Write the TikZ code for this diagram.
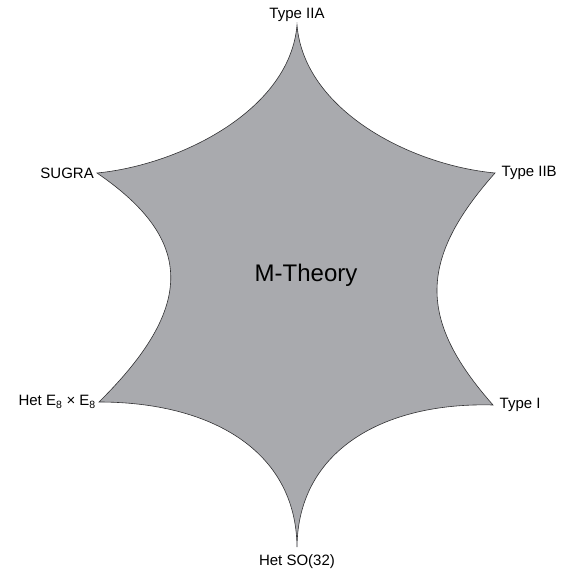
\documentclass[tikz,border=0pt]{standalone}
\usepackage{fontspec}
\setmainfont{Liberation Sans}
\usetikzlibrary{positioning}

\definecolor{stargray}{RGB}{169,170,174}
\definecolor{edgegray}{RGB}{50,50,52}

\begin{document}
\begin{tikzpicture}[x=1pt, y=-1pt, node distance=2pt,
    vertexlabel/.style={inner sep=1pt, font=\fontsize{15}{18}\selectfont},
    starshape/.style={fill=stargray, draw=edgegray, line width=0.6pt}]
    \useasboundingbox (0,0) rectangle (560,577);

    % tips of the star
    \coordinate (top) at (297,25);
    \coordinate (ur) at (495,173);
    \coordinate (lr) at (493,405);
    \coordinate (bot) at (297,547);
    \coordinate (ll) at (99,402);
    \coordinate (ul) at (97,173);

    \draw [starshape] (top) .. controls (304,110) and (410,165) .. (ur)
        .. controls (418,260) and (418,320) .. (lr)
        .. controls (384,402) and (298,450) .. (bot)
        .. controls (296,450) and (210,402) .. (ll)
        .. controls (195,307) and (195,240) .. (ul)
        .. controls (180,165) and (290,110) .. (top) -- cycle;

    \node (mtheory) at (306,275) [font=\fontsize{24}{28}\selectfont] {M-Theory};

    \node (iia) [vertexlabel, above=of top] {Type IIA};
    \node (iib) [vertexlabel, right=5.5pt of ur] {Type IIB};
    \node (typei) [vertexlabel, right=5.5pt of lr] {Type I};
    \node (so32) [vertexlabel, below=6pt of bot] {Het SO(32)};
    \node (e8e8) [vertexlabel, left=2pt of ll] {Het E\textsubscript{8} × E\textsubscript{8}};
    \node (sugra) [vertexlabel, left=2pt of ul] {SUGRA};
\end{tikzpicture}
\end{document}
